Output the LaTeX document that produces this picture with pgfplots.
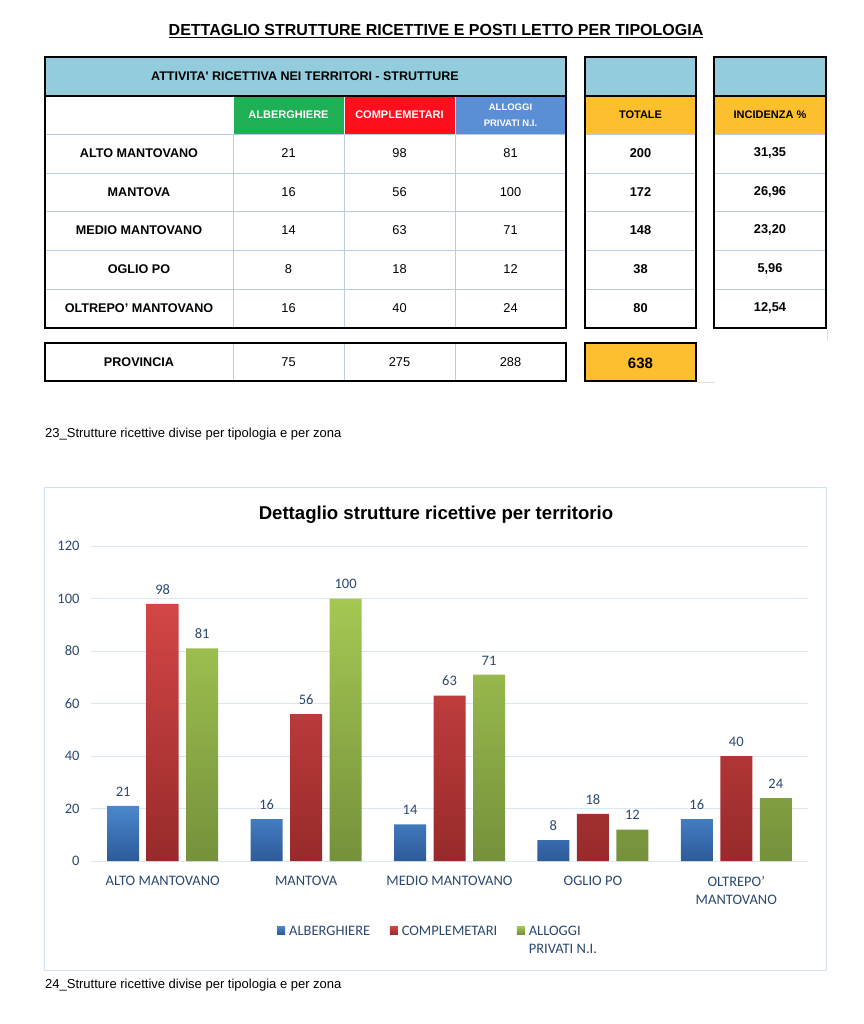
\documentclass[border=0pt]{standalone}
\usepackage{fontspec}
\setmainfont{Liberation Sans}
\newfontfamily\calib{Carlito}
\usepackage{pgfplots}
\pgfplotsset{compat=1.18}

\definecolor{hdr}{HTML}{93CDDD}
\definecolor{cgreen}{HTML}{1FAF55}
\definecolor{cred}{HTML}{FF0F1E}
\definecolor{cblue}{HTML}{5B8FD5}
\definecolor{corange}{HTML}{FDBF2D}
\definecolor{gridl}{HTML}{B8CCE4}
\definecolor{valcol}{HTML}{2B4870}
\definecolor{framec}{HTML}{D6E1ED}
\definecolor{cgrid}{HTML}{DCE6F2}
\definecolor{bT}{HTML}{4A87CD}\definecolor{bB}{HTML}{2D5B9A}
\definecolor{rT}{HTML}{D34646}\definecolor{rB}{HTML}{982A2B}
\definecolor{gT}{HTML}{A5C853}\definecolor{gB}{HTML}{75913B}

\newcommand\fs[1]{\fontsize{#1}{#1}\selectfont}

\begin{document}
\begin{tikzpicture}
\path[use as bounding box] (0,0) rectangle (863pt,-1024pt);
\begin{scope}[x=1pt,y=-1pt]
% ---- title
\node[font=\bfseries\fs{16}] at (436,31) {\underline{DETTAGLIO STRUTTURE RICETTIVE E POSTI LETTO PER TIPOLOGIA}};
% ---- main table fills
\fill[hdr] (45,57) rectangle (566,96);
\fill[cgreen] (233,96) rectangle (344,134);
\fill[cred] (344,96) rectangle (455,134);
\fill[cblue] (455,96) rectangle (566,134);
\fill[hdr] (585,57) rectangle (696,96);
\fill[corange] (585,96) rectangle (696,134);
\fill[hdr] (714,57) rectangle (826,96);
\fill[corange] (714,96) rectangle (826,134);
\fill[corange] (585,343) rectangle (696,381);
% light grid lines
\foreach \y in {134,173,211,250,289}{
  \draw[gridl,line width=0.9pt] (45,\y)--(566,\y);
  \draw[gridl,line width=0.9pt] (585,\y)--(696,\y);
  \draw[gridl,line width=0.9pt] (714,\y)--(826,\y);
}
\foreach \x in {233,344,455}{
  \draw[white,line width=0.9pt] (\x,96)--(\x,134);
  \draw[gridl,line width=0.9pt] (\x,134)--(\x,328);
  \draw[gridl,line width=0.9pt] (\x,343)--(\x,381);
}
% black borders
\draw[line width=1.6pt] (45,96)--(566,96);
\draw[line width=1.6pt] (585,96)--(696,96);
\draw[line width=1.6pt] (714,96)--(826,96);
\draw[line width=1.6pt] (45,57) rectangle (566,328);
\draw[line width=1.6pt] (585,57) rectangle (696,328);
\draw[line width=1.6pt] (714,57) rectangle (826,328);
\draw[line width=1.6pt] (45,343) rectangle (566,381);
\draw[line width=1.6pt] (585,343) rectangle (696,381);
\draw[black!12,line width=0.8pt] (697,382)--(715,382);
\draw[black!12,line width=0.8pt] (827,329)--(827,341);
% header texts
\node[font=\bfseries\fs{12.5}] at (305,76.5) {ATTIVITA\textquotesingle\ RICETTIVA NEI TERRITORI - STRUTTURE};
\node[font=\bfseries\fs{11}, text=white] at (288.5,115) {ALBERGHIERE};
\node[font=\bfseries\fs{11}, text=white] at (399.5,115) {COMPLEMETARI};
\node[font=\bfseries\fontsize{9.5}{16}\selectfont, text=white, align=center] at (510.5,115) {ALLOGGI\\PRIVATI N.I.};
\node[font=\bfseries\fs{11}] at (640.5,115) {TOTALE};
\node[font=\bfseries\fs{11}] at (770,115) {INCIDENZA \%};
% rows
\begin{scope}[every node/.style={font=\fs{12.8}}]
\tikzset{lab/.style={font=\bfseries\fs{12.6}}, tot/.style={font=\bfseries\fs{12.8}}}
\node[lab] at (139,153.5) {ALTO MANTOVANO};
\node at (288.5,153.5) {21};\node at (399.5,153.5) {98};\node at (510.5,153.5) {81};
\node[tot] at (640.5,153.5) {200};\node[tot] at (770,153.5) {31,35};
\node[lab] at (139,192) {MANTOVA};
\node at (288.5,192) {16};\node at (399.5,192) {56};\node at (510.5,192) {100};
\node[tot] at (640.5,192) {172};\node[tot] at (770,192) {26,96};
\node[lab] at (139,230.5) {MEDIO MANTOVANO};
\node at (288.5,230.5) {14};\node at (399.5,230.5) {63};\node at (510.5,230.5) {71};
\node[tot] at (640.5,230.5) {148};\node[tot] at (770,230.5) {23,20};
\node[lab] at (139,269.5) {OGLIO PO};
\node at (288.5,269.5) {8};\node at (399.5,269.5) {18};\node at (510.5,269.5) {12};
\node[tot] at (640.5,269.5) {38};\node[tot] at (770,269.5) {5,96};
\node[lab] at (139,308.5) {OLTREPO’ MANTOVANO};
\node at (288.5,308.5) {16};\node at (399.5,308.5) {40};\node at (510.5,308.5) {24};
\node[tot] at (640.5,308.5) {80};\node[tot] at (770,308.5) {12,54};
\node[lab] at (139,362) {PROVINCIA};
\node at (288.5,362) {75};\node at (399.5,362) {275};\node at (510.5,362) {288};
\node[font=\bfseries\fs{15}] at (640.5,363) {638};
\end{scope}
% captions and frame
\node[anchor=base west, inner sep=0pt, font=\fs{13}] at (45,437) {23\_Strutture ricettive divise per tipologia e per zona};
\draw[framec, line width=1pt] (44,487) rectangle (826,970);
\node[font=\bfseries\fs{18.6}] at (436,515) {Dettaglio strutture ricettive per territorio};
\node[anchor=base west, inner sep=0pt, font=\fs{13}] at (45,988) {24\_Strutture ricettive divise per tipologia e per zona};
\end{scope}

\begin{axis}[
  at={(91pt,-861pt)}, anchor=south west,
  scale only axis, width=717pt, height=315pt,
  xmin=-0.5, xmax=4.5, ymin=0, ymax=120,
  ytick={0,20,...,120}, xtick={0,1,2,3,4},
  xticklabels={ALTO MANTOVANO, MANTOVA, MEDIO MANTOVANO, OGLIO PO, {OLTREPO’\\MANTOVANO}},
  /pgf/number format/assume math mode=true,
  ymajorgrids, grid style={cgrid, line width=0.9pt},
  axis line style={draw=none}, major tick length=0pt,
  ybar=7.5pt, bar width=32pt,
  ticklabel style={font=\calib\fs{14.5}, text=valcol},
  xticklabel style={yshift=-12pt, align=center, font=\calib\fontsize{14.5}{18}\selectfont},
  yticklabel style={xshift=-8pt},
  nodes near coords,
  every node near coord/.append style={font=\calib\fs{14.5}, text=valcol, yshift=6pt},
  legend columns=3,
  legend image code/.code={\path[#1,draw=none] (0pt,-2pt) rectangle (8pt,-10pt);},
  legend style={at={(0.2594,-0.2)}, anchor=north west, draw=none, fill=none, inner sep=0pt,
     font=\calib\fontsize{14.5}{18}\selectfont, text=valcol,
     nodes={inner sep=1.5pt},
     cells={anchor=north west, align=left},
     /tikz/every odd column/.append style={column sep=2.5pt},
     /tikz/every even column/.append style={column sep=18pt}},
]
\addplot[draw=none, top color=bT, bottom color=bB] coordinates {(0,21) (1,16) (2,14) (3,8) (4,16)};
\addplot[draw=none, top color=rT, bottom color=rB] coordinates {(0,98) (1,56) (2,63) (3,18) (4,40)};
\addplot[draw=none, top color=gT, bottom color=gB] coordinates {(0,81) (1,100) (2,71) (3,12) (4,24)};
\legend{ALBERGHIERE, COMPLEMETARI, {ALLOGGI\\PRIVATI N.I.}}
\end{axis}
\end{tikzpicture}
\end{document}
